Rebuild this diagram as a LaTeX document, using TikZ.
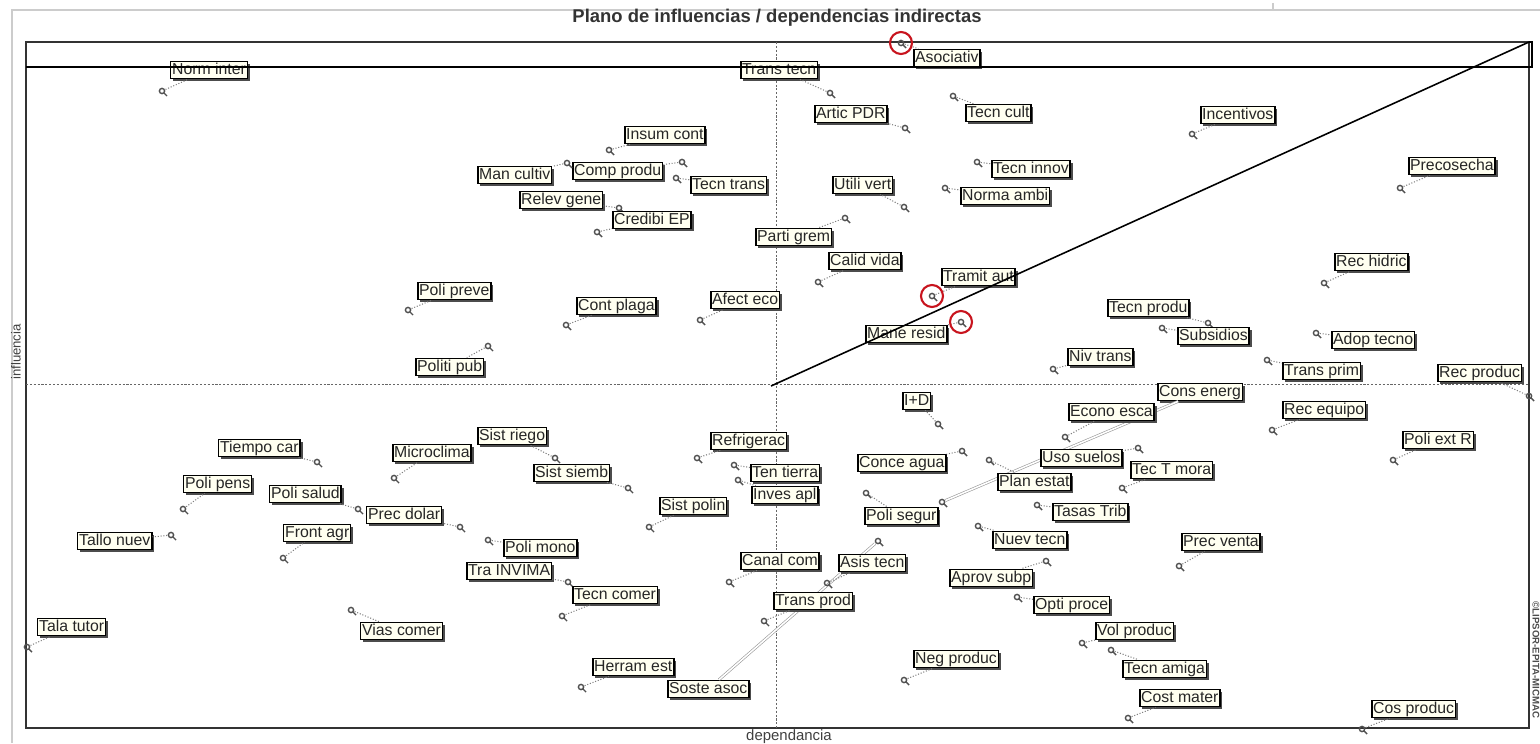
\documentclass[tikz,border=0pt]{standalone}
\usepackage{fontspec}
\setmainfont{Liberation Sans}
\usetikzlibrary{shadows}
\definecolor{lblfill}{RGB}{255,255,240}
\definecolor{pingray}{RGB}{80,80,80}
\definecolor{ringred}{RGB}{200,20,30}

% point of a variable, its marker and the line to its label
\newcommand{\varpin}[3][conn]{%
  \coordinate (#2-p) at (#3);
  \draw[#1] (#2-p) -- (#2);
  \draw[pinmark] (#2-p) circle[radius=2.6] ++(1.8,1.8) -- ++(3.2,3.2);
}

\begin{document}
\begin{tikzpicture}[
    x=0.02cm,
    y=-0.02cm,
    lbl/.style={draw=black,
        line width=0.85pt,
        fill=lblfill,
        anchor=west,
        font=\fontsize{9}{10}\selectfont,
        text=black!85,
        inner xsep=0.8pt,
        inner ysep=0.6pt,
        text height=6.7pt,
        text depth=1.9pt,
        drop shadow={shadow xshift=1.4pt, shadow yshift=-1.4pt, fill=black!70, opacity=1}},
    conn/.style={draw=black!50, densely dotted, line width=0.6pt, shorten <=2.2pt},
    longconn/.style={draw=black!40, double=white, double distance=0.9pt, line width=0.35pt, shorten <=2.2pt},
    pinmark/.style={draw=pingray, line width=0.8pt},
    redring/.style={draw=ringred, line width=1.2pt},
    axis/.style={black!60, dash pattern=on 1.2pt off 1pt, line width=0.5pt}]

\useasboundingbox (0,0) rectangle (1540,743);

% Outer sheet
\draw[black!20, line width=1pt] (12,743) -- (12,10) -- (1540,10);
\draw[black!20, line width=0.6pt] (1273,3) -- (1273,10);

% Title and axes names
\node[font=\bfseries\fontsize{10.5}{12}\selectfont, text=black!80] (title) at (777,18)
    {Plano de influencias / dependencias indirectas};
\node[font=\fontsize{7.5}{8}\selectfont, text=black!75, rotate=90] (infl) at (16,352) {influencia};
\node[font=\fontsize{8.5}{9}\selectfont, text=black!75] (dep) at (789,737) {dependancia};
\node[font=\bfseries\fontsize{5.5}{6}\selectfont, text=black!70, rotate=-90] (copy) at (1536,660)
    {©LIPSOR-EPITA-MICMAC};

% Frame and mean axes
\draw[line width=0.9pt, black!80] (26,42) rectangle (1529,728);
\draw[axis] (776,42) -- (776,728);
\draw[axis] (26,384) -- (1529,384);

% Upper left sector
\node[lbl] (normint) at (170,70) {Norm inter}; \varpin{normint}{162,91}
\node[lbl] (insumcont) at (624,135) {Insum cont}; \varpin{insumcont}{609,150}
\node[lbl] (compprodu) at (572,171) {Comp produ}; \varpin{compprodu}{682,162}
\node[lbl] (mancultiv) at (477,175) {Man cultiv}; \varpin{mancultiv}{567,163}
\node[lbl] (tecntrans) at (690,185) {Tecn trans}; \varpin{tecntrans}{676,178}
\node[lbl] (relevgene) at (519,200) {Relev gene}; \varpin{relevgene}{619,208}
\node[lbl] (credibiep) at (612,220) {Credibi EP}; \varpin{credibiep}{597,232}
\node[lbl] (polipreve) at (417,291) {Poli preve}; \varpin{polipreve}{408,310}
\node[lbl] (contplaga) at (576,306) {Cont plaga}; \varpin{contplaga}{566,325}
\node[lbl] (afecteco) at (710,300) {Afect eco}; \varpin{afecteco}{700,320}
\node[lbl] (politipub) at (415,367) {Politi pub}; \varpin{politipub}{488,346}

% Upper right sector
\node[lbl] (transtecn) at (740,70) {Trans tecn}; \varpin{transtecn}{830,93}
\node[lbl] (asociativ) at (913,58) {Asociativ}; \varpin{asociativ}{901,43}
\node[lbl] (articpdr) at (814,114) {Artic PDR}; \varpin{articpdr}{905,128}
\node[lbl] (tecncult) at (965,113) {Tecn cult}; \varpin{tecncult}{953,96}
\node[lbl] (incentivos) at (1200,115) {Incentivos}; \varpin{incentivos}{1192,134}
\node[lbl] (precosecha) at (1408,166) {Precosecha}; \varpin{precosecha}{1400,188}
\node[lbl] (utilivert) at (832,185) {Utili vert}; \varpin{utilivert}{904,207}
\node[lbl] (tecninnov) at (991,169) {Tecn innov}; \varpin{tecninnov}{977,162}
\node[lbl] (normaambi) at (960,196) {Norma ambi}; \varpin{normaambi}{945,188}
\node[lbl] (partigrem) at (755,237) {Parti grem}; \varpin{partigrem}{845,218}
\node[lbl] (calidvida) at (828,261) {Calid vida}; \varpin{calidvida}{818,282}
\node[lbl] (tramitaut) at (941,277) {Tramit aut}; \varpin{tramitaut}{932,296}
\node[lbl] (maneresid) at (865,334) {Mane resid}; \varpin{maneresid}{961,322}
\node[lbl] (rechidric) at (1334,262) {Rec hidric}; \varpin{rechidric}{1324,283}
\node[lbl] (tecnprodu) at (1107,308) {Tecn produ}; \varpin{tecnprodu}{1208,323}
\node[lbl] (subsidios) at (1177,336) {Subsidios}; \varpin{subsidios}{1162,328}
\node[lbl] (adoptecno) at (1331,340) {Adop tecno}; \varpin{adoptecno}{1316,333}
\node[lbl] (nivtrans) at (1067,357) {Niv trans}; \varpin{nivtrans}{1053,369}
\node[lbl] (transprim) at (1282,371) {Trans prim}; \varpin{transprim}{1267,360}
\node[lbl] (recproduc) at (1437,373) {Rec produc}; \varpin{recproduc}{1529,396}

% Lower left sector
\node[lbl] (tiempocar) at (218,448) {Tiempo car}; \varpin{tiempocar}{317,462}
\node[lbl] (polipens) at (183,484) {Poli pens}; \varpin{polipens}{183,509}
\node[lbl] (polisalud) at (269,494) {Poli salud}; \varpin{polisalud}{358,509}
\node[lbl] (tallonuev) at (77,541) {Tallo nuev}; \varpin{tallonuev}{171,535}
\node[lbl] (frontagr) at (283,533) {Front agr}; \varpin{frontagr}{283,558}
\node[lbl] (talatutor) at (37,627) {Tala tutor}; \varpin{talatutor}{27,647}
\node[lbl] (viascomer) at (360,631) {Vias comer}; \varpin{viascomer}{351,610}
\node[lbl] (microclima) at (392,453) {Microclima}; \varpin{microclima}{394,478}
\node[lbl] (precdolar) at (366,515) {Prec dolar}; \varpin{precdolar}{460,527}
\node[lbl] (sistriego) at (477,436) {Sist riego}; \varpin{sistriego}{555,458}
\node[lbl] (sistsiemb) at (533,473) {Sist siemb}; \varpin{sistsiemb}{628,488}
\node[lbl] (polimono) at (503,548) {Poli mono}; \varpin{polimono}{488,540}
\node[lbl] (trainvima) at (466,571) {Tra INVIMA}; \varpin{trainvima}{568,582}
\node[lbl] (tecncomer) at (572,595) {Tecn comer}; \varpin{tecncomer}{562,616}
\node[lbl] (sistpolin) at (659,506) {Sist polin}; \varpin{sistpolin}{649,527}
\node[lbl] (refrigerac) at (710,441) {Refrigerac}; \varpin{refrigerac}{697,458}
\node[lbl] (herramest) at (592,667) {Herram est}; \varpin{herramest}{581,687}
\node[lbl] (canalcom) at (740,561) {Canal com}; \varpin{canalcom}{729,582}
\node[lbl] (sosteasoc) at (667,689) {Soste asoc}; \varpin[longconn]{sosteasoc}{878,541}

% Lower right sector
\node[lbl] (tentierra) at (750,473) {Ten tierra}; \varpin{tentierra}{734,465}
\node[lbl] (invesapl) at (751,495) {Inves apl}; \varpin{invesapl}{738,480}
\node[lbl] (transprod) at (773,601) {Trans prod}; \varpin{transprod}{764,621}
\node[lbl] (asistecn) at (838,563) {Asis tecn}; \varpin{asistecn}{827,583}
\node[lbl] (imasd) at (902,401) {I+D}; \varpin{imasd}{938,424}
\node[lbl] (consenerg) at (1157,392) {Cons energ}; \varpin[longconn]{consenerg}{942,502}
\node[lbl] (econoesca) at (1068,412) {Econo esca}; \varpin{econoesca}{1065,437}
\node[lbl] (recequipo) at (1282,410) {Rec equipo}; \varpin{recequipo}{1272,430}
\node[lbl] (poliextr) at (1402,440) {Poli ext R}; \varpin{poliextr}{1393,460}
\node[lbl] (usosuelos) at (1040,458) {Uso suelos}; \varpin{usosuelos}{1138,448}
\node[lbl] (conceagua) at (857,463) {Conce agua}; \varpin{conceagua}{962,451}
\node[lbl] (planestat) at (997,482) {Plan estat}; \varpin{planestat}{989,460}
\node[lbl] (tectmora) at (1130,470) {Tec T mora}; \varpin{tectmora}{1122,488}
\node[lbl] (polisegur) at (864,516) {Poli segur}; \varpin{polisegur}{866,493}
\node[lbl] (tasastrib) at (1052,512) {Tasas Trib}; \varpin{tasastrib}{1037,505}
\node[lbl] (nuevtecn) at (992,540) {Nuev tecn}; \varpin{nuevtecn}{978,526}
\node[lbl] (precventa) at (1181,542) {Prec venta}; \varpin{precventa}{1179,566}
\node[lbl] (aprovsubp) at (949,578) {Aprov subp}; \varpin{aprovsubp}{1046,561}
\node[lbl] (optiproce) at (1033,605) {Opti proce}; \varpin{optiproce}{1017,597}
\node[lbl] (volproduc) at (1095,631) {Vol produc}; \varpin{volproduc}{1082,643}
\node[lbl] (negproduc) at (913,659) {Neg produc}; \varpin{negproduc}{904,680}
\node[lbl] (tecnamiga) at (1122,669) {Tecn amiga}; \varpin{tecnamiga}{1111,650}
\node[lbl] (costmater) at (1139,698) {Cost mater}; \varpin{costmater}{1128,718}
\node[lbl] (cosproduc) at (1371,709) {Cos produc}; \varpin{cosproduc}{1362,729}

% Diagonal and upper band
\draw[line width=0.9pt] (771,386) -- (1529,42);
\draw[line width=0.9pt] (26,67) -- (1532,67) -- (1532,42) -- (1529,42);

% Marked variables
\draw[redring] (asociativ-p) circle[radius=11];
\draw[redring] (tramitaut-p) circle[radius=11];
\draw[redring] (maneresid-p) circle[radius=11];

\end{tikzpicture}
\end{document}
